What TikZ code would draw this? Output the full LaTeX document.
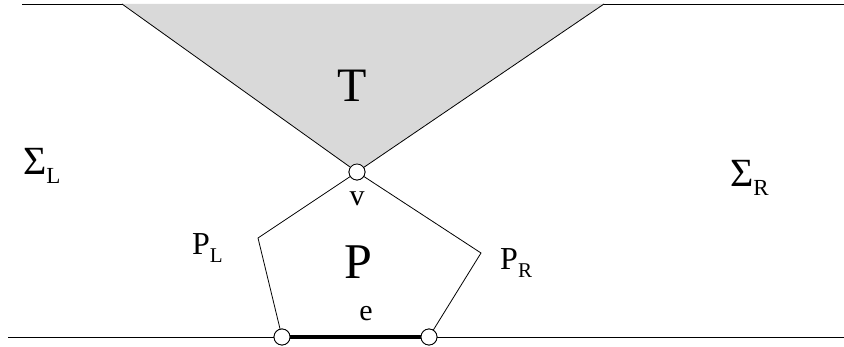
\documentclass[tikz,border=0pt]{standalone}
\usepackage{fontspec}
\setmainfont{Liberation Serif}
\begin{document}
\begin{tikzpicture}[x=1pt,y=-1pt,
  vert/.style={circle,draw,fill=white,inner sep=0pt,minimum size=16pt,line width=0.8pt},
  lbl/.style={inner sep=0pt,anchor=base}]
\useasboundingbox (0,0) rectangle (844,347);
\coordinate (tl) at (122,4);
\coordinate (tr) at (604,4);
\coordinate (ll) at (258,238);
\coordinate (rr) at (481,253);
\draw[line width=0.8pt] (22,4) -- (844,4);
\draw[line width=0.8pt] (8,337) -- (844,337);
\node[vert] (v) at (357,172) {};
\node[vert] (a) at (282,337) {};
\node[vert] (b) at (429,337) {};
\fill[black!15] (tl) -- (tr) -- (v.center) -- cycle;
\draw[line width=0.8pt] (tl) -- (v.center) -- (tr);
\draw[line width=0.8pt] (v.center) -- (ll) -- (a.center);
\draw[line width=0.8pt] (v.center) -- (rr) -- (b.center);
\draw[line width=4pt] (a.center) -- (b.center);
\node[vert] at (v) {};
\node[vert] at (a) {};
\node[vert] at (b) {};
\node[lbl,font=\fontsize{48}{48}\selectfont] (T) at (352,102) {T};
\node[lbl,font=\fontsize{50}{50}\selectfont] (P) at (358,279) {P};
\node[lbl,font=\fontsize{30}{30}\selectfont] (vl) at (357,206) {v};
\node[lbl,font=\fontsize{30}{30}\selectfont] (el) at (366,321) {e};
\node[lbl,font=\fontsize{40}{40}\selectfont,anchor=base west] (SL) at (23,175) {Σ\raisebox{-9pt}{\fontsize{23}{23}\selectfont L}};
\node[lbl,font=\fontsize{40}{40}\selectfont,anchor=base west] (SR) at (730,187) {Σ\raisebox{-9pt}{\fontsize{23}{23}\selectfont R}};
\node[lbl,font=\fontsize{32}{32}\selectfont,anchor=base west] (PL) at (192,255) {P\raisebox{-8pt}{\fontsize{21}{21}\selectfont L}};
\node[lbl,font=\fontsize{32}{32}\selectfont,anchor=base west] (PR) at (500,270) {P\raisebox{-8pt}{\fontsize{21}{21}\selectfont R}};
\end{tikzpicture}
\end{document}
